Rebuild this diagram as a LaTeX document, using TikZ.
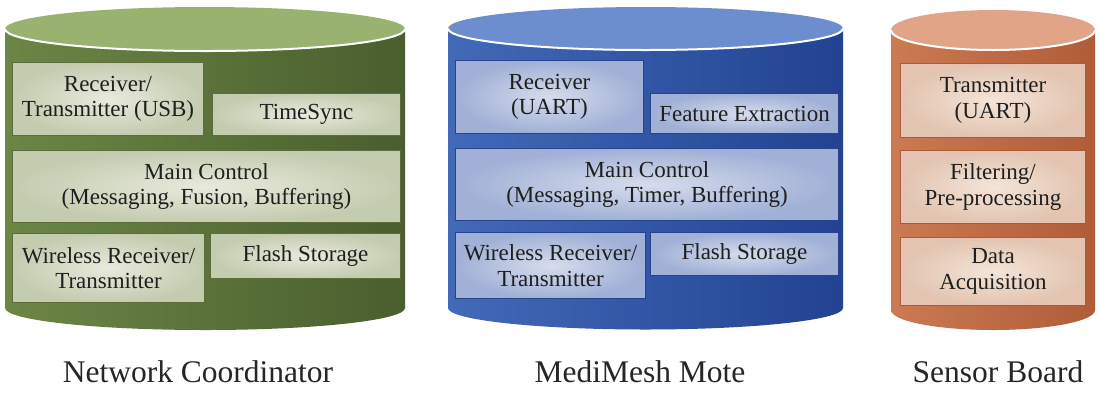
\documentclass[tikz,border=0pt]{standalone}
\usepackage{fontspec}
\setmainfont{Liberation Serif}
\begin{document}
\begin{tikzpicture}[x=1pt,y=-1pt,
  boxtext/.style={font=\fontsize{23}{25.5}\selectfont, text=black!88},
  blk/.style={boxtext, anchor=north west, inner sep=0pt, align=center, shading=radial, line width=1pt},
  gbox/.style={blk, inner color=gboxin, outer color=gboxout, draw=gboxline},
  bbox/.style={blk, inner color=bboxin, outer color=bboxout, draw=bboxline},
  obox/.style={blk, inner color=oboxin, outer color=oboxout, draw=oboxline},
  caption/.style={font=\fontsize{31.5}{34}\selectfont, text=black!85, inner sep=0pt},
  rim/.style={white, line width=2pt}
]
\definecolor{gboxin}{RGB}{232,234,220}
\definecolor{gboxout}{RGB}{196,204,176}
\definecolor{gboxline}{RGB}{92,108,60}
\definecolor{bboxin}{RGB}{214,220,236}
\definecolor{bboxout}{RGB}{160,176,214}
\definecolor{bboxline}{RGB}{40,66,140}
\definecolor{oboxin}{RGB}{244,228,216}
\definecolor{oboxout}{RGB}{226,196,176}
\definecolor{oboxline}{RGB}{170,92,56}
\definecolor{gL}{RGB}{108,134,70}
\definecolor{gM}{RGB}{112,138,74}
\definecolor{gR}{RGB}{74,94,46}
\definecolor{gT}{RGB}{154,178,112}
\definecolor{bL}{RGB}{66,106,184}
\definecolor{bM}{RGB}{60,98,176}
\definecolor{bR}{RGB}{34,66,146}
\definecolor{bT}{RGB}{108,142,206}
\definecolor{oL}{RGB}{204,122,82}
\definecolor{oM}{RGB}{206,126,86}
\definecolor{oR}{RGB}{176,92,56}
\definecolor{oT}{RGB}{226,164,134}

\useasboundingbox (0,0) rectangle (1100,392);
\fill[white] (0,0) rectangle (1100,392);

% Green cylinder
\shade[left color=gL, middle color=gM, right color=gR]
  (5,29) -- (5,308) arc[start angle=180, end angle=0, x radius=200, y radius=22] -- (405,29) -- cycle;
\fill[gT] (205,29) ellipse[x radius=200, y radius=22];
\draw[rim] (5,29) arc[start angle=180, end angle=0, x radius=200, y radius=22];

% Blue cylinder
\shade[left color=bL, middle color=bM, right color=bR]
  (448,28.5) -- (448,308) arc[start angle=180, end angle=0, x radius=197.5, y radius=21.5] -- (843,28.5) -- cycle;
\fill[bT] (645.5,28.5) ellipse[x radius=197.5, y radius=21.5];
\draw[rim] (448,28.5) arc[start angle=180, end angle=0, x radius=197.5, y radius=21.5];

% Orange cylinder
\shade[left color=oL, middle color=oM, right color=oR]
  (891,30) -- (891,310) arc[start angle=180, end angle=0, x radius=102, y radius=20] -- (1095,30) -- cycle;
\fill[oT] (993,30) ellipse[x radius=102, y radius=20];
\draw[rim] (891,30) arc[start angle=180, end angle=0, x radius=102, y radius=20];

% Green boxes
\node[gbox, minimum width=191pt, minimum height=73pt] (gRT) at (12,62) {Receiver/\\Transmitter (USB)};
\node[gbox, minimum width=188pt, minimum height=42pt] (gTS) at (212,93) {TimeSync};
\node[gbox, minimum width=388pt, minimum height=72pt] (gMC) at (12,150) {Main Control\\(Messaging, Fusion, Buffering)};
\node[gbox, minimum width=192pt, minimum height=69pt] (gWR) at (12,233) {Wireless Receiver/\\Transmitter};
\node[gbox, minimum width=190pt, minimum height=45pt] (gFS) at (210,233) {Flash Storage};

% Blue boxes
\node[bbox, minimum width=188pt, minimum height=73pt] (bRU) at (455,60) {Receiver\\(UART)};
\node[bbox, minimum width=188pt, minimum height=40pt] (bFE) at (650,93) {Feature Extraction};
\node[bbox, minimum width=383pt, minimum height=72pt] (bMC) at (455,148) {Main Control\\(Messaging, Timer, Buffering)};
\node[bbox, minimum width=190pt, minimum height=66pt] (bWR) at (455,232) {Wireless Receiver/\\Transmitter};
\node[bbox, minimum width=188pt, minimum height=43pt] (bFS) at (650,232) {Flash Storage};

% Orange boxes
\node[obox, minimum width=185pt, minimum height=74pt] (oTU) at (900,63) {Transmitter\\(UART)};
\node[obox, minimum width=185pt, minimum height=73pt] (oFP) at (900,150) {Filtering/\\Pre-processing};
\node[obox, minimum width=185pt, minimum height=68pt] (oDA) at (900,237) {Data\\Acquisition};

% Captions
\node[caption] (capNC) at (198,372) {Network Coordinator};
\node[caption] (capMM) at (640,372) {MediMesh Mote};
\node[caption] (capSB) at (998,372) {Sensor Board};
\end{tikzpicture}
\end{document}
